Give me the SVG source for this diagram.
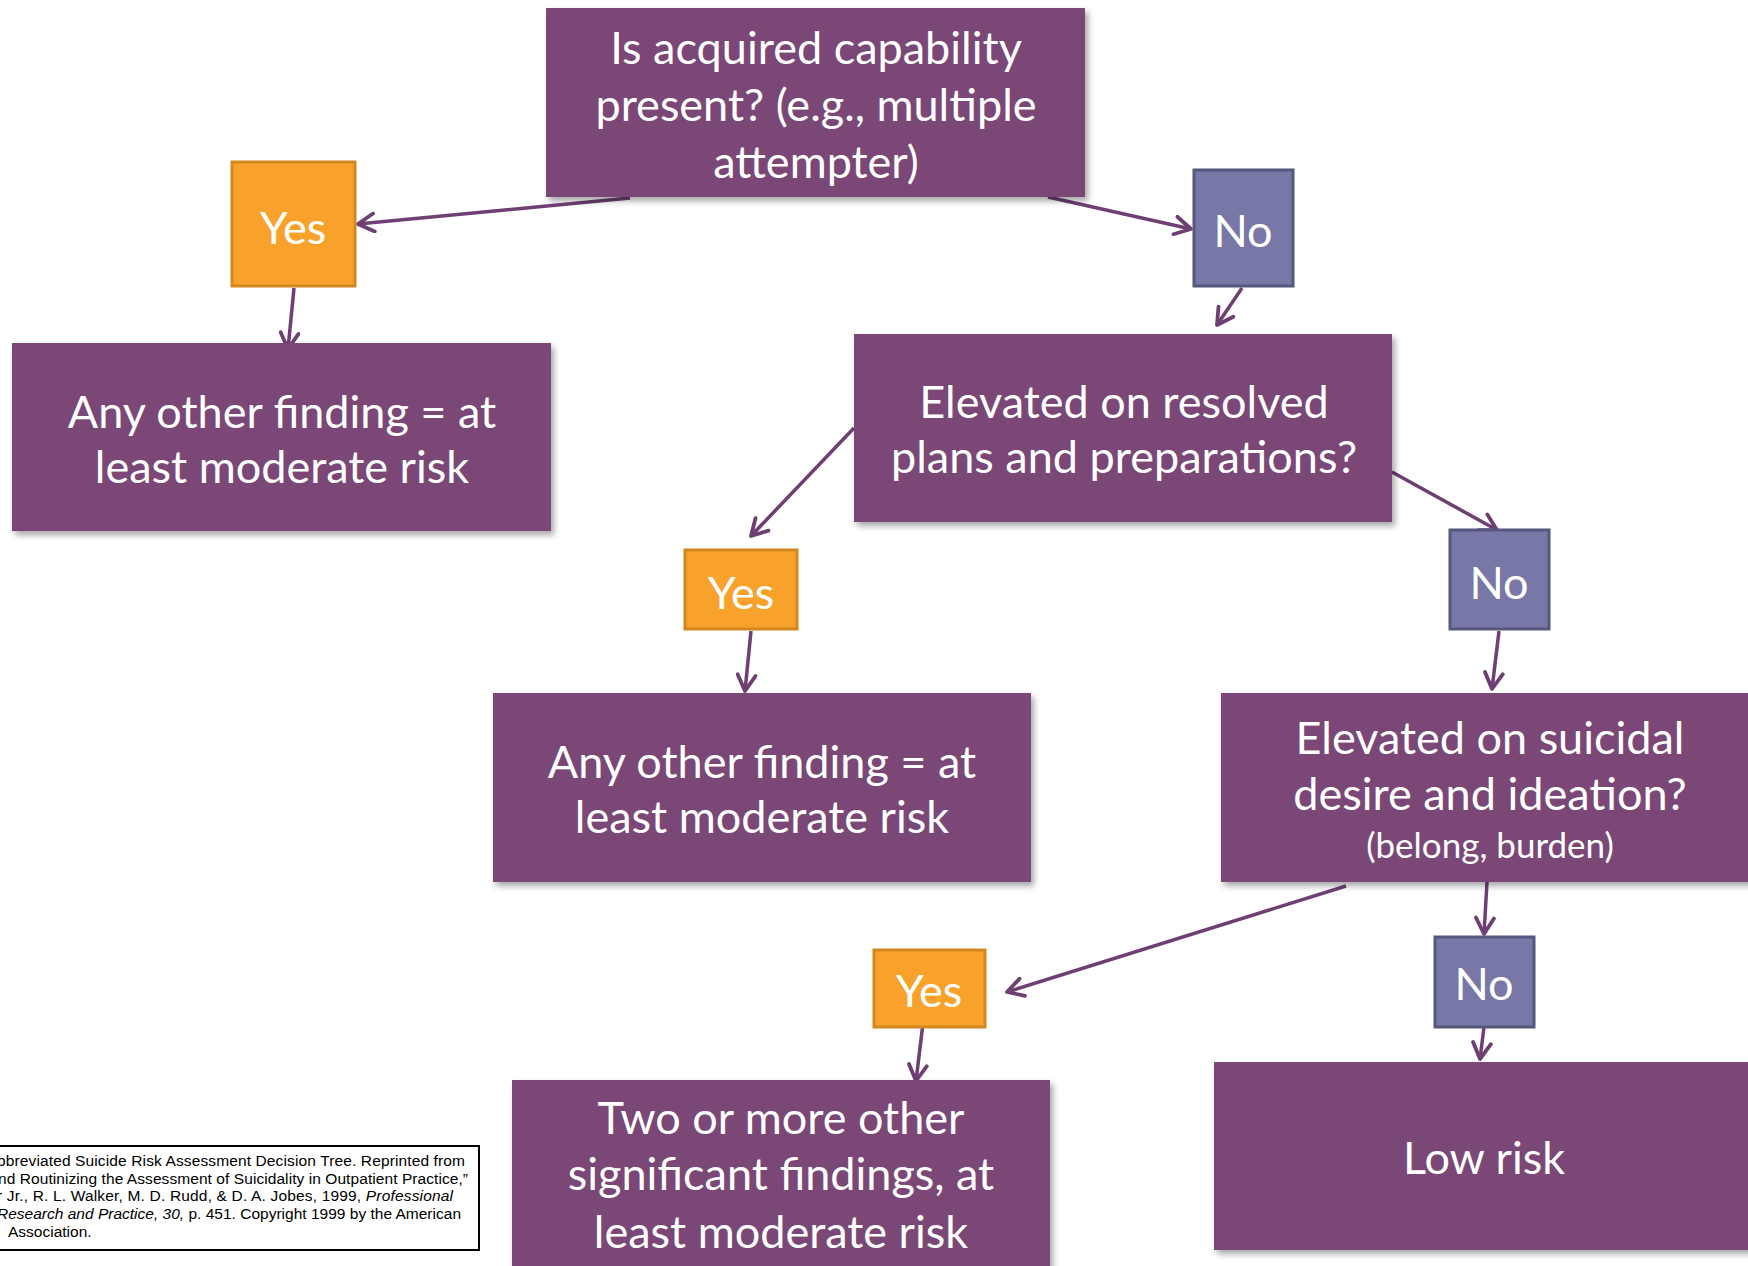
<svg xmlns="http://www.w3.org/2000/svg" width="1748" height="1266" viewBox="0 0 1748 1266">
<defs>
<filter id="sh" x="-5%" y="-5%" width="115%" height="120%">
<feDropShadow dx="3" dy="4" stdDeviation="3" flood-color="#000" flood-opacity="0.35"/>
</filter>
<marker id="ah" viewBox="0 0 22 22" markerUnits="userSpaceOnUse" markerWidth="22" markerHeight="22" refX="19" refY="11" orient="auto">
<path d="M3,2 L19,11 L3,20" fill="none" stroke="#6F3F74" stroke-width="3.8" stroke-linecap="round" stroke-linejoin="round"/>
</marker>
<style>
.box{fill:#7A4777;filter:url(#sh)}
.yes{fill:#F9A22B;stroke:#D2871F;stroke-width:3}
.no{fill:#7878A8;stroke:#55577F;stroke-width:3}
.t{font-family:Lato,"Open Sans",sans-serif;font-size:45px;fill:#fff;text-anchor:middle}
.s{font-size:35px}
.c{font-family:"Liberation Sans",Arial,sans-serif;font-size:15.5px;fill:#000}
.ln{stroke:#6F3F74;stroke-width:3.5;fill:none;marker-end:url(#ah)}
</style>
</defs>
<rect width="1748" height="1266" fill="#fff"/>

<g id="connectors">
<line class="ln" x1="630" y1="198" x2="358" y2="224"/>
<line class="ln" x1="1048" y1="197" x2="1191" y2="229"/>
<line class="ln" x1="294" y1="288" x2="288" y2="349"/>
<line class="ln" x1="1242" y1="288" x2="1217" y2="325"/>
<line class="ln" x1="854" y1="428" x2="751" y2="536"/>
<line class="ln" x1="1392" y1="472" x2="1497" y2="530"/>
<line class="ln" x1="751" y1="631" x2="745" y2="691"/>
<line class="ln" x1="1499" y1="631" x2="1492" y2="689"/>
<line class="ln" x1="1346" y1="886" x2="1007" y2="992"/>
<line class="ln" x1="1487" y1="882" x2="1484" y2="934"/>
<line class="ln" x1="923" y1="1023" x2="916" y2="1081"/>
<line class="ln" x1="1484" y1="1027" x2="1480" y2="1059"/>
</g>

<g id="q1">
<rect class="box" x="546" y="8" width="539" height="189"/>
<text class="t" x="816" y="64">Is acquired capability</text>
<text class="t" x="816" y="121">present? (e.g., multiple</text>
<text class="t" x="816" y="178">attempter)</text>
</g>

<g id="yes1">
<rect class="yes" x="232" y="162" width="123" height="124"/>
<text class="t" x="293" y="244">Yes</text>
</g>

<g id="no1">
<rect class="no" x="1194" y="170" width="99" height="116"/>
<text class="t" x="1243" y="247">No</text>
</g>

<g id="r1">
<rect class="box" x="12" y="343" width="539" height="188"/>
<text class="t" x="282" y="428">Any other finding = at</text>
<text class="t" x="282" y="483">least moderate risk</text>
</g>

<g id="q2">
<rect class="box" x="854" y="334" width="538" height="188"/>
<text class="t" x="1124" y="418">Elevated on resolved</text>
<text class="t" x="1124" y="473">plans and preparations?</text>
</g>

<g id="yes2">
<rect class="yes" x="685" y="550" width="112" height="79"/>
<text class="t" x="741" y="609">Yes</text>
</g>

<g id="no2">
<rect class="no" x="1450" y="530" width="99" height="99"/>
<text class="t" x="1499" y="599">No</text>
</g>

<g id="r2">
<rect class="box" x="493" y="693" width="538" height="189"/>
<text class="t" x="762" y="778">Any other finding = at</text>
<text class="t" x="762" y="833">least moderate risk</text>
</g>

<g id="q3">
<rect class="box" x="1221" y="693" width="540" height="189"/>
<text class="t" x="1490" y="754">Elevated on suicidal</text>
<text class="t" x="1490" y="810">desire and ideation?</text>
<text class="t s" x="1490" y="858">(belong, burden)</text>
</g>

<g id="yes3">
<rect class="yes" x="874" y="950" width="111" height="77"/>
<text class="t" x="929" y="1007">Yes</text>
</g>

<g id="no3">
<rect class="no" x="1435" y="937" width="99" height="90"/>
<text class="t" x="1484" y="1000">No</text>
</g>

<g id="r3">
<rect class="box" x="512" y="1080" width="538" height="200"/>
<text class="t" x="781" y="1134">Two or more other</text>
<text class="t" x="781" y="1190">significant findings, at</text>
<text class="t" x="781" y="1248">least moderate risk</text>
</g>

<g id="low">
<rect class="box" x="1214" y="1062" width="545" height="188"/>
<text class="t" x="1484" y="1174">Low risk</text>
</g>

<g id="citation">
<rect x="-10" y="1146" width="489" height="104" fill="#fff" stroke="#000" stroke-width="2"/>
<text class="c" x="-3" y="1166" textLength="468">bbreviated Suicide Risk Assessment Decision Tree. Reprinted from</text>
<text class="c" x="-2" y="1184" textLength="470">nd Routinizing the Assessment of Suicidality in Outpatient Practice,”</text>
<text class="c" x="-3" y="1201" textLength="456">r Jr., R. L. Walker, M. D. Rudd, &amp; D. A. Jobes, 1999, <tspan font-style="italic">Professional</tspan></text>
<text class="c" x="-3" y="1219" textLength="464"><tspan font-style="italic">Research and Practice, 30,</tspan> p. 451. Copyright 1999 by the American</text>
<text class="c" x="8" y="1237">Association.</text>
</g>
</svg>
